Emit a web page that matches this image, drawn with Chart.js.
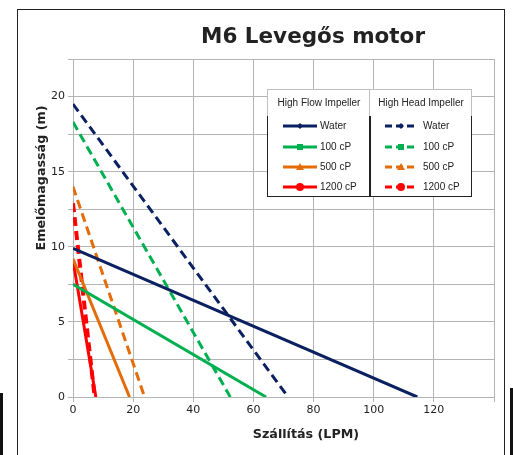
<!DOCTYPE html>
<html><head><meta charset="utf-8">
<script src="https://cdn.jsdelivr.net/npm/chart.js@4/dist/chart.umd.min.js"></script>
<style>
html,body{margin:0;padding:0;background:#fff;}
#wrap{position:relative;width:513px;height:455px;overflow:hidden;}
#frame{position:absolute;left:17px;top:9px;width:488px;height:460px;border:1.5px solid #222;box-sizing:border-box;}
canvas{position:absolute;left:0;top:0;}
.t{position:absolute;font-family:"DejaVu Sans",sans-serif;font-weight:bold;color:#222;white-space:nowrap;}
#title{left:313px;top:23px;transform:translateX(-50%);font-size:21.5px;}
#xt{left:306px;top:426px;transform:translateX(-50%);font-size:12.7px;}
#yt{left:40px;top:178px;transform:translate(-50%,-50%) rotate(-90deg);font-size:12.7px;}
#leg{position:absolute;left:267px;top:89px;width:205px;height:108px;font-family:"Liberation Sans Narrow","Liberation Sans",sans-serif;font-size:10px;color:#222;}
#lh{position:absolute;left:0;top:0;width:205px;height:28px;border:1px solid #c0c0c0;box-sizing:border-box;background:#fff;}
#lh div{position:absolute;top:7px;width:102px;text-align:center;}
#lb{position:absolute;left:0;top:27px;width:205px;height:81px;border:1px solid #222;border-top:none;box-sizing:border-box;background:#fff;}
#ldiv{position:absolute;left:102px;top:0;width:1px;height:28px;background:#c0c0c0;}
#lbdiv{position:absolute;left:102px;top:27px;width:1.5px;height:81px;background:#222;}
.row{position:absolute;height:14px;}
.row svg{position:absolute;left:0;top:0;}
.row span{position:absolute;top:1px;}
.bar{position:absolute;background:#111;}
</style></head>
<body><div id="wrap">
<canvas id="c" width="513" height="455"></canvas>
<div id="frame"></div>
<div class="bar" style="left:0;top:393px;width:3px;height:62px"></div>
<div class="bar" style="left:510px;top:388px;width:3px;height:67px"></div>
<div class="t" id="title">M6 Levegős motor</div>
<div class="t" id="xt">Szállítás (LPM)</div>
<div class="t" id="yt">Emelőmagasság (m)</div>
<div id="leg">
 <div id="lh"><div style="left:0">High Flow Impeller</div><div style="left:102px">High Head Impeller</div></div>
 <div id="ldiv"></div>
 <div id="lb"></div>
 <div id="lbdiv"></div>
</div>
</div>
<script>
// ---- data ----
const seriesNames = ["Water", "100 cP", "500 cP", "1200 cP"];
const flowLabels = ["High Flow Impeller", "High Head Impeller"];
// High Flow Impeller: [flow LPM, head m]
const hfWater = [[0, 9.9], [114.5, 0]];
const hf100 = [[0, 7.5], [64.2, 0]];
const hf500 = [[0, 9.2], [18.8, 0]];
const hf1200 = [[0, 9.1], [7.6, 0]];
// High Head Impeller
const hhWater = [[0, 19.5], [71.5, 0]];
const hh100 = [[0, 18.3], [52.3, 0]];
const hh500 = [[0, 14.0], [23.8, 0]];
const hh1200 = [[0, 12.9], [7.2, 0]];
const xTicks = [0, 20, 40, 60, 80, 100, 120];
const yTicks = [0, 5, 10, 15, 20];

const colors = ["#0b2060", "#00b050", "#e46c0a", "#ff0000"];
const markers = ["diamond", "square", "triangle", "circle"];
const hf = [hfWater, hf100, hf500, hf1200];
const hh = [hhWater, hh100, hh500, hh1200];

const toPts = a => a.map(p => ({x: p[0], y: p[1]}));
const datasets = [];
hf.forEach((d, i) => datasets.push({label: flowLabels[0] + " " + seriesNames[i], data: toPts(d), borderColor: colors[i], backgroundColor: colors[i], borderWidth: 3, pointRadius: 0, showLine: true}));
hh.forEach((d, i) => datasets.push({label: flowLabels[1] + " " + seriesNames[i], data: toPts(d), borderColor: colors[i], backgroundColor: colors[i], borderWidth: i === 3 ? 4 : 3, borderDash: [9, 5], pointRadius: 0, showLine: true}));

new Chart(document.getElementById("c"), {
  type: "scatter",
  data: {datasets},
  options: {
    responsive: false, animation: false,
    layout: {padding: {left: 0, right: 19, top: 59, bottom: 0}},
    plugins: {legend: {display: false}, tooltip: {enabled: false}},
    scales: {
      x: {
        type: "linear", min: 0, max: 140,
        afterFit: s => { s.height = 58; },
        ticks: {stepSize: 20, color: "#222", font: {family: "DejaVu Sans", size: 11}, padding: 2,
          callback: v => xTicks.includes(v) ? String(v) : ""},
        grid: {color: "#b4b4b4", lineWidth: 1, tickLength: 5, tickColor: "#b4b4b4"},
        border: {color: "#b4b4b4"}
      },
      y: {
        type: "linear", min: 0, max: 22.5,
        afterFit: s => { s.width = 73; },
        ticks: {stepSize: 2.5, color: "#222", font: {family: "DejaVu Sans", size: 11}, padding: 3,
          callback: v => yTicks.includes(v) ? String(v) : ""},
        grid: {color: "#b4b4b4", lineWidth: 1, tickLength: 5, tickColor: "#b4b4b4"},
        border: {color: "#b4b4b4"}
      }
    }
  }
});

// ---- legend samples ----
function marker(type, cx, cy, col) {
  if (type === "diamond") return `<polygon points="${cx},${cy-3} ${cx+3},${cy} ${cx},${cy+3} ${cx-3},${cy}" fill="${col}"/>`;
  if (type === "square") return `<rect x="${cx-3}" y="${cy-3}" width="6" height="6" fill="${col}"/>`;
  if (type === "triangle") return `<polygon points="${cx},${cy-4} ${cx+4},${cy+3} ${cx-4},${cy+3}" fill="${col}"/>`;
  return `<circle cx="${cx}" cy="${cy}" r="4" fill="${col}"/>`;
}
const lb = document.getElementById("leg");
const rowY = [30, 51, 71, 91];
seriesNames.forEach((n, i) => {
  const c = colors[i];
  const r1 = document.createElement("div");
  r1.className = "row"; r1.style.left = "15px"; r1.style.top = rowY[i] + "px"; r1.style.width = "85px";
  r1.innerHTML = `<svg width="36" height="14"><line x1="1" y1="7" x2="35" y2="7" stroke="${c}" stroke-width="3"/>${marker(markers[i], 18, 7, c)}</svg><span style="left:38px">${n}</span>`;
  lb.appendChild(r1);
  const r2 = document.createElement("div");
  r2.className = "row"; r2.style.left = "118px"; r2.style.top = rowY[i] + "px"; r2.style.width = "85px";
  r2.innerHTML = `<svg width="34" height="14"><line x1="0" y1="7" x2="33" y2="7" stroke="${c}" stroke-width="3" stroke-dasharray="7,4"/>${marker(markers[i], 16, 7, c)}</svg><span style="left:38px">${n}</span>`;
  lb.appendChild(r2);
});
</script>
</body></html>
